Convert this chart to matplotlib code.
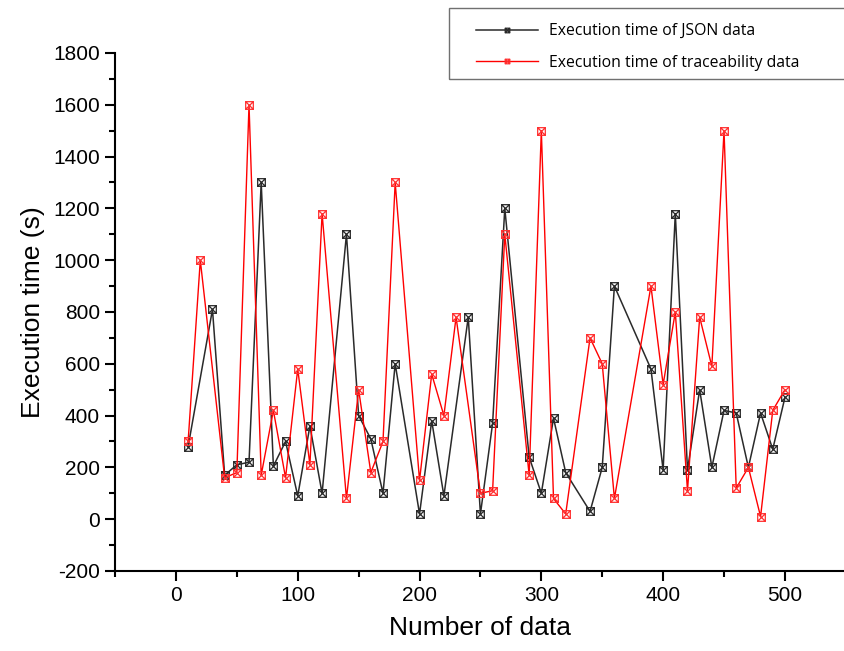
import matplotlib
matplotlib.use("Agg")
import matplotlib.pyplot as plt
from matplotlib.path import Path
from matplotlib.patches import Rectangle
from matplotlib.ticker import MultipleLocator

# JSON execution times
json_x = [10, 30, 40, 50, 60, 70, 80, 90, 100, 110, 120, 140, 150, 160, 170, 180,
          200, 210, 220, 240, 250, 260, 270, 290, 300, 310, 320, 340, 350, 360,
          390, 400, 410, 420, 430, 440, 450, 460, 470, 480, 490, 500]
json_y = [280, 810, 170, 210, 220, 1300, 205, 300, 90, 360, 100, 1100, 400, 310, 100, 600,
          20, 380, 90, 780, 20, 370, 1200, 240, 100, 390, 180, 30, 200, 900,
          580, 190, 1180, 190, 500, 200, 420, 410, 200, 410, 270, 470]

# traceability execution times
trace_x = [10, 20, 40, 50, 60, 70, 80, 90, 100, 110, 120, 140, 150, 160, 170, 180,
           200, 210, 220, 230, 250, 260, 270, 290, 300, 310, 320, 340, 350, 360,
           390, 400, 410, 420, 430, 440, 450, 460, 470, 480, 490, 500]
trace_y = [300, 1000, 160, 180, 1600, 170, 420, 160, 580, 210, 1180, 80, 500, 180, 300, 1300,
           150, 560, 400, 780, 100, 110, 1100, 170, 1500, 80, 20, 700, 600, 80,
           900, 520, 800, 110, 780, 590, 1500, 120, 200, 10, 420, 500]

labels = ["Execution time of JSON data", "Execution time of traceability data"]

# square with a cross inside
verts = [(-1, -1), (1, -1), (1, 1), (-1, 1), (-1, -1),
         (-1, -1), (1, 1), (-1, 1), (1, -1)]
codes = [Path.MOVETO, Path.LINETO, Path.LINETO, Path.LINETO, Path.CLOSEPOLY,
         Path.MOVETO, Path.LINETO, Path.MOVETO, Path.LINETO]
boxx = Path(verts, codes)

plt.rcParams['font.family'] = ['Liberation Sans', 'DejaVu Sans']
plt.rcParams['axes.unicode_minus'] = False

W, H = 844, 651
fig = plt.figure(figsize=(8.44, 6.51), dpi=100)
ax = fig.add_axes([0.1363, 0.1229, 0.8637, 0.7957])

ax.plot(json_x, json_y, color='#2a2a2a', lw=1.1, marker=boxx, ms=5.5,
        mfc='none', mec='#2a2a2a', mew=0.9, label=labels[0])
ax.plot(trace_x, trace_y, color='#ff0000', lw=1.0, marker=boxx, ms=5.5,
        mfc='none', mec='#ff3030', mew=0.9, label=labels[1])

ax.set_xlim(-50, 548.5)
ax.set_ylim(-200, 1800)
ax.xaxis.set_major_locator(MultipleLocator(100))
ax.xaxis.set_minor_locator(MultipleLocator(50))
ax.yaxis.set_major_locator(MultipleLocator(200))
ax.yaxis.set_minor_locator(MultipleLocator(100))

for s in ['top', 'right']:
    ax.spines[s].set_visible(False)
for s in ['left', 'bottom']:
    ax.spines[s].set_linewidth(1.5)

ax.tick_params(which='major', direction='out', length=7, width=1.5, labelsize=15, pad=4)
ax.tick_params(which='minor', direction='out', length=4, width=1.5)

ax.set_xlabel("Number of data", fontsize=19, labelpad=8)
ax.set_ylabel("Execution time (s)", fontsize=19, labelpad=6)

# legend box runs off the right edge like the original
fig.patches.append(Rectangle((449 / W, 1 - 79 / H), 410 / W, 71 / H,
                             transform=fig.transFigure, fill=False,
                             edgecolor='#707070', lw=1.0, zorder=5))
fig.legend(loc='upper left', bbox_to_anchor=(476 / W, 1 - 23 / H),
           prop={'family': ['Open Sans', 'DejaVu Sans'], 'size': 11.3},
           frameon=False, handlelength=3.95, handletextpad=0.7,
           labelspacing=1.0, borderpad=0, borderaxespad=0, markerscale=0.6)

fig.savefig("out.png", dpi=100)
